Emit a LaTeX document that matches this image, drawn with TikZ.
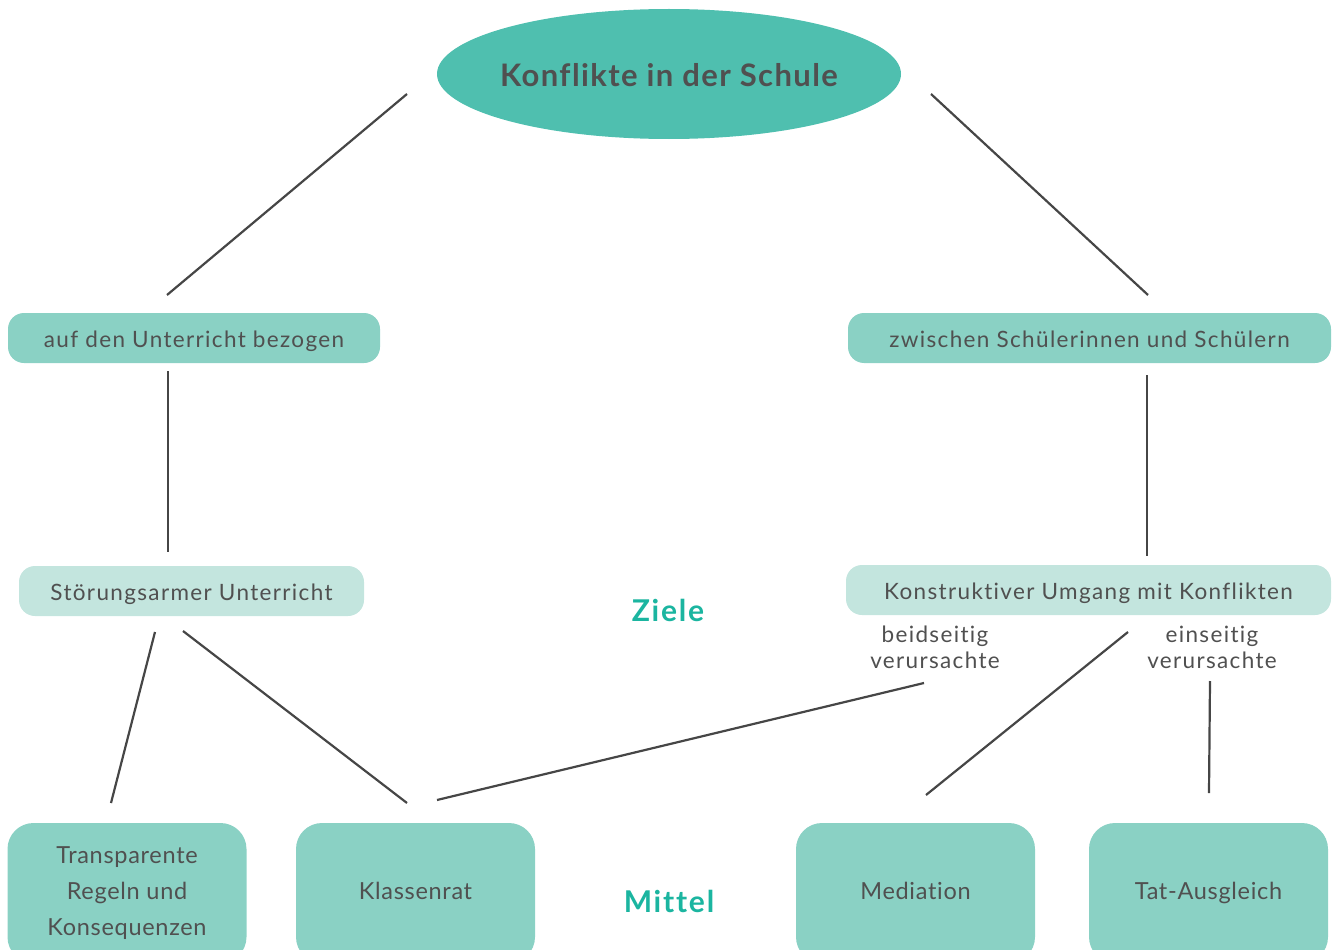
\documentclass[tikz,border=0pt]{standalone}
\usepackage{fontspec}
\setmainfont[Ligatures=NoCommon]{Lato}
\newfontfamily\latoA[LetterSpace=6,Ligatures=NoCommon]{Lato}
\newfontfamily\latoB[LetterSpace=3,Ligatures=NoCommon]{Lato}
\newfontfamily\latoC[LetterSpace=4.5,Ligatures=NoCommon]{Lato}
\usetikzlibrary{shapes.geometric}
\definecolor{ellfill}{HTML}{4FBFAF}
\definecolor{boxfill}{HTML}{8AD1C4}
\definecolor{lightfill}{HTML}{C3E5DE}
\definecolor{txt}{HTML}{505050}
\definecolor{accent}{HTML}{1BB5A0}
\definecolor{linec}{HTML}{464646}
\tikzset{
  topell/.style={ellipse, fill=ellfill, minimum width=464pt, minimum height=130pt, inner sep=0pt,
    text height=26pt, text depth=0pt,
    text=txt, font=\latoC\fontsize{31}{36}\selectfont\bfseries},
  catbox/.style={rectangle, rounded corners=16pt, fill=boxfill, minimum height=50pt, inner sep=0pt,
    text height=22pt, text depth=4pt,
    text=txt, font=\latoA\fontsize{22.5}{26}\selectfont},
  goalbox/.style={catbox, fill=lightfill},
  meanbox/.style={rectangle, rounded corners=26pt, fill=boxfill, minimum width=239pt, minimum height=140pt, inner sep=0pt,
    text height=17pt, text depth=5pt,
    text=txt, font=\latoB\fontsize{23.5}{36}\selectfont, align=center},
  heading/.style={text=accent, font=\latoA\fontsize{30}{34}\selectfont\bfseries},
  sublabel/.style={text=txt, font=\latoA\fontsize{22.5}{26}\selectfont, align=center},
  conn/.style={draw=linec, line width=2.2pt}
}
\begin{document}
\begin{tikzpicture}[x=1pt,y=-1pt]
\useasboundingbox (0,0) rectangle (1334,950);
\clip (0,0) rectangle (1334,950);
% nodes
\node[topell] (top) at (669,74) {\makebox[0pt]{Konflikte in der Schule}};
\node[catbox, minimum width=372pt] (unt) at (194,338) {auf den Unterricht bezogen};
\node[catbox, minimum width=483pt] (sch) at (1089.5,338) {zwischen Schülerinnen und Schülern};
\node[goalbox, minimum width=345pt] (stor) at (191.5,591) {Störungsarmer Unterricht};
\node[goalbox, minimum width=485pt] (konst) at (1088.5,590) {Konstruktiver Umgang mit Konflikten};
\node[heading] (ziele) at (668,610) {Ziele};
\node[heading] (mittel) at (669,901) {Mittel};
\node[sublabel] (beid) at (935,647) {beidseitig\\verursachte};
\node[sublabel] (eins) at (1212,647) {einseitig\\verursachte};
\node[meanbox, text height=89pt] (trans) at (127,893) {Transparente\\Regeln und\\Konsequenzen};
\node[meanbox] (klass) at (415.5,893) {Klassenrat};
\node[meanbox] (med) at (915.5,893) {Mediation};
\node[meanbox] (tat) at (1208.5,893) {Tat-Ausgleich};
% connector end points
\coordinate (a1) at (407,94);   \coordinate (a2) at (167,295);
\coordinate (b1) at (931,94);   \coordinate (b2) at (1148,295);
\coordinate (c1) at (168,371);  \coordinate (c2) at (168,552);
\coordinate (d1) at (1147,375); \coordinate (d2) at (1147,556);
\coordinate (e1) at (155,632);  \coordinate (e2) at (111,803);
\coordinate (f1) at (183,631);  \coordinate (f2) at (407,803);
\coordinate (g1) at (924,683);  \coordinate (g2) at (437,800);
\coordinate (h1) at (1128,632); \coordinate (h2) at (926,795);
\coordinate (i1) at (1210,681); \coordinate (i2) at (1209,793);
\draw[conn] (a1) -- (a2);
\draw[conn] (b1) -- (b2);
\draw[conn] (c1) -- (c2);
\draw[conn] (d1) -- (d2);
\draw[conn] (e1) -- (e2);
\draw[conn] (f1) -- (f2);
\draw[conn] (g1) -- (g2);
\draw[conn] (h1) -- (h2);
\draw[conn] (i1) -- (i2);
\end{tikzpicture}
\end{document}
